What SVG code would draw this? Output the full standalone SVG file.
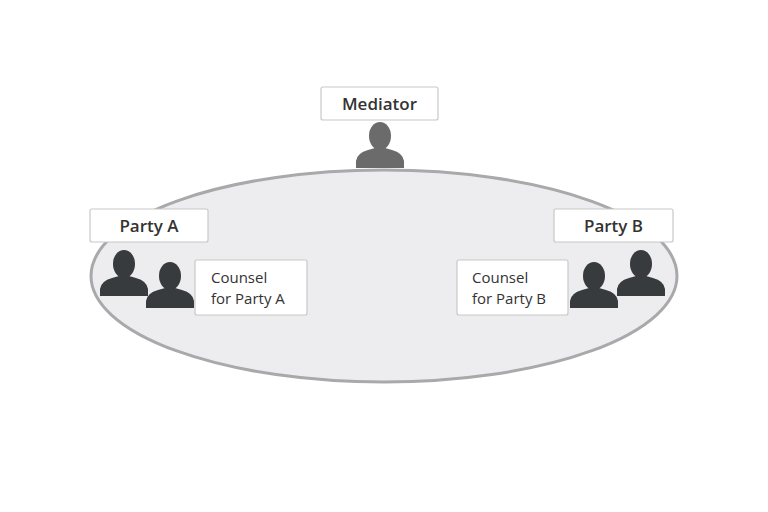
<svg xmlns="http://www.w3.org/2000/svg" width="768" height="512" viewBox="0 0 768 512">
<style>
.box{fill:#fff;stroke:#c8c8c8;stroke-width:1.2}
.t{font-family:"Open Sans","DejaVu Sans",sans-serif;fill:#333;font-size:17px}
.b{font-weight:600;text-anchor:middle}
.s{font-size:15px}
</style>
<defs>
<g id="p">
<path d="M-24,23 L-24,16 Q-23,8 -12,5 L-5,3 L5,3 L12,5 Q23,8 24,16 L24,23 Z"/>
<ellipse cx="0" cy="-9" rx="11" ry="14"/>
</g>
</defs>
<rect width="768" height="512" fill="#fff"/>
<g id="mediator">
<use href="#p" transform="translate(380,145)" fill="#6b6b6b"/>
<rect class="box" x="321" y="87" width="117" height="33" rx="2"/>
<text class="t b" x="379.5" y="110">Mediator</text>
</g>
<g id="table">
<ellipse cx="384" cy="276" rx="293" ry="106" fill="#ededef" stroke="#a9a9ab" stroke-width="3"/>
</g>
<g id="partyA">
<rect class="box" x="90" y="209" width="118" height="33" rx="2"/>
<text class="t b" x="149" y="232">Party A</text>
<use href="#p" transform="translate(124,273)" fill="#383b3e"/>
</g>
<g id="counselA">
<use href="#p" transform="translate(170,285)" fill="#383b3e"/>
<rect class="box" x="195" y="260" width="112" height="55" rx="2"/>
<text class="t s" x="211" y="283">Counsel</text>
<text class="t s" x="211" y="304">for Party A</text>
</g>
<g id="partyB">
<rect class="box" x="554" y="209" width="119" height="33" rx="2"/>
<text class="t b" x="613.5" y="232">Party B</text>
<use href="#p" transform="translate(641,273)" fill="#383b3e"/>
</g>
<g id="counselB">
<use href="#p" transform="translate(594,285)" fill="#383b3e"/>
<rect class="box" x="457" y="260" width="111" height="55" rx="2"/>
<text class="t s" x="472" y="283">Counsel</text>
<text class="t s" x="472" y="304">for Party B</text>
</g>
<g id="connectors"/>
</svg>
